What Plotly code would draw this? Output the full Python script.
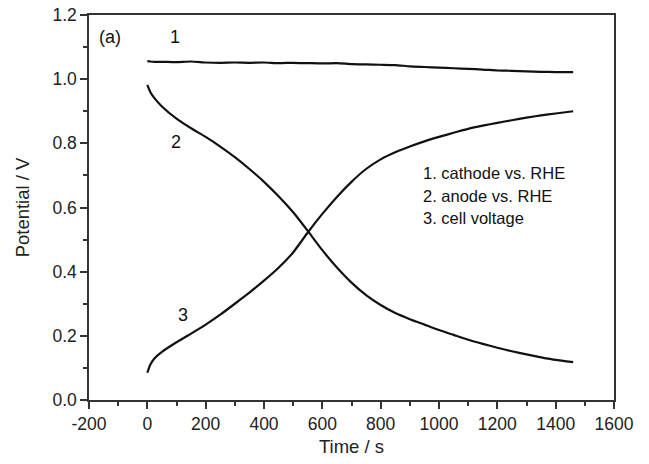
import plotly.graph_objects as go

# Time axis (s) shared by the three potential traces
time_s = [0, 10, 25, 50, 100, 150, 200, 250, 300, 350, 400, 450, 500, 550, 600,
          650, 700, 750, 800, 850, 900, 950, 1000, 1050, 1100, 1150, 1200, 1250,
          1300, 1350, 1400, 1460]

# 1. cathode vs. RHE
cathode = [1.056, 1.055, 1.054, 1.054, 1.053, 1.055, 1.052, 1.051, 1.052, 1.051,
           1.052, 1.050, 1.051, 1.050, 1.049, 1.050, 1.047, 1.046, 1.045, 1.044,
           1.040, 1.038, 1.036, 1.034, 1.032, 1.030, 1.027, 1.026, 1.024, 1.023,
           1.022, 1.022]

# 2. anode vs. RHE
anode = [0.982, 0.960, 0.940, 0.915, 0.877, 0.847, 0.820, 0.790, 0.757, 0.720,
         0.680, 0.635, 0.585, 0.527, 0.467, 0.413, 0.366, 0.327, 0.296, 0.271,
         0.252, 0.235, 0.218, 0.203, 0.188, 0.175, 0.163, 0.152, 0.142, 0.133,
         0.125, 0.118]

# 3. cell voltage
cell = [0.085, 0.110, 0.130, 0.150, 0.180, 0.207, 0.235, 0.266, 0.300, 0.335,
        0.372, 0.412, 0.460, 0.522, 0.580, 0.633, 0.680, 0.720, 0.750, 0.772,
        0.790, 0.806, 0.820, 0.833, 0.845, 0.855, 0.864, 0.872, 0.880, 0.887,
        0.893, 0.900]

x_ticks = [-200, 0, 200, 400, 600, 800, 1000, 1200, 1400, 1600]
y_ticks = [0.0, 0.2, 0.4, 0.6, 0.8, 1.0, 1.2]
legend_lines = ["1. cathode vs. RHE", "2. anode vs. RHE", "3. cell voltage"]

FONT = "Liberation Sans, Arial, sans-serif"
INK = "#111111"

fig = go.Figure()
for series in (cathode, anode, cell):
    fig.add_trace(go.Scatter(
        x=time_s, y=series, mode="lines",
        line=dict(color=INK, width=2.2, shape="spline", smoothing=0.5),
        showlegend=False, hoverinfo="skip",
    ))

# curve numbers and panel label
labels = [("(a)", -128, 1.132), ("1", 95, 1.13), ("2", 98, 0.805), ("3", 122, 0.265)]
for text, xv, yv in labels:
    fig.add_annotation(x=xv, y=yv, text=text, showarrow=False,
                       font=dict(family=FONT, size=18, color=INK))

# text key
for i, line in enumerate(legend_lines):
    fig.add_annotation(x=937, y=0.706 - i * 0.07, text=line, showarrow=False,
                       xanchor="left", font=dict(family=FONT, size=16.5, color=INK))

axis_common = dict(
    showgrid=False, zeroline=False, showline=True, linecolor="#333333",
    linewidth=1.5, mirror=True, ticks="outside", ticklen=7, tickwidth=1.5,
    tickcolor="#333333", tickfont=dict(family=FONT, size=17.5, color="#222222"),
    automargin=False,
)

fig.update_xaxes(
    range=[-200, 1600], tickvals=x_ticks, ticktext=[str(v) for v in x_ticks],
    minor=dict(ticks="outside", ticklen=4, tickwidth=1.5, tickcolor="#333333", dtick=100),
    title=dict(text="Time / s", font=dict(family=FONT, size=18.5, color="#222222"), standoff=7),
    **axis_common,
)
fig.update_yaxes(
    range=[0, 1.2], tickvals=y_ticks, ticktext=[f"{v:.1f}" for v in y_ticks],
    minor=dict(ticks="outside", ticklen=4, tickwidth=1.5, tickcolor="#333333", dtick=0.1),
    title=dict(text="Potential / V", font=dict(family=FONT, size=18.5, color="#222222"), standoff=18),
    **axis_common,
)

fig.update_layout(
    width=649, height=464,
    margin=dict(l=89, r=35, t=15, b=64),
    paper_bgcolor="white", plot_bgcolor="white",
)

fig.write_html("out.html")
